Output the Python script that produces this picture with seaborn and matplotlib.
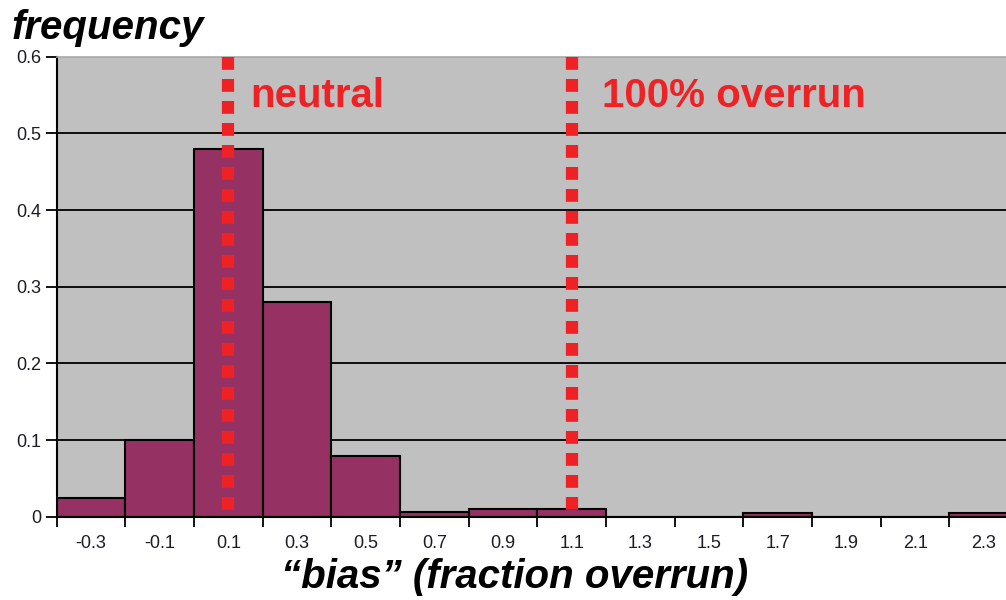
import numpy as np
import pandas as pd
import matplotlib
matplotlib.use("Agg")
import matplotlib.pyplot as plt
import seaborn as sns

# Histogram of estimation bias (fraction overrun), bins of width 0.2
bin_centers = [-0.3, -0.1, 0.1, 0.3, 0.5, 0.7, 0.9, 1.1, 1.3, 1.5, 1.7, 1.9, 2.1, 2.3]
frequency = [0.025, 0.10, 0.48, 0.28, 0.079, 0.006, 0.010, 0.010, 0.0, 0.0, 0.005, 0.0, 0.0, 0.005]
tick_labels = ["-0.3", "-0.1", "0.1", "0.3", "0.5", "0.7", "0.9", "1.1",
               "1.3", "1.5", "1.7", "1.9", "2.1", "2.3"]
bin_edges = [-0.4, -0.2, 0.0, 0.2, 0.4, 0.6, 0.8, 1.0, 1.2, 1.4, 1.6, 1.8, 2.0, 2.2, 2.4]
marker_x = [0.1, 1.1]
marker_text = ["neutral", "100% overrun"]
y_ticks = [0, 0.1, 0.2, 0.3, 0.4, 0.5, 0.6]

sns.set_theme(style="white")
plt.rcParams["font.family"] = ["Liberation Sans", "DejaVu Sans"]

df = pd.DataFrame({"bias": bin_centers, "freq": frequency})

fig = plt.figure(figsize=(10.06, 6.0), dpi=100)
ax = fig.add_axes([0.0564, 0.1387, 0.9556, 0.7668])
ax.set_facecolor("#c0c0c0")

# black horizontal gridlines under the bars
for yv in y_ticks[1:-1]:
    ax.axhline(yv, color="black", lw=1.3, zorder=0.5)

sns.histplot(data=df, x="bias", weights="freq", bins=bin_edges, stat="count",
             color="#953263", alpha=1.0, edgecolor="black", linewidth=1.5,
             ax=ax, zorder=2)

# red dotted reference lines and their labels
for xv in marker_x:
    ax.plot([xv, xv], [0.6, 0.0], color="#ee2224", lw=8.8,
            linestyle=(0, (1.05, 0.75)), dash_capstyle="butt",
            solid_capstyle="butt", zorder=3, clip_on=False)
ax.text(0.163, 0.549, marker_text[0], color="#ee2224", fontsize=29,
        fontweight="bold", ha="left", va="center", zorder=4)
ax.text(1.1875, 0.549, marker_text[1], color="#ee2224", fontsize=29,
        fontweight="bold", ha="left", va="center", zorder=4)

ax.set_xlim(bin_edges[0], bin_edges[-1])
ax.set_ylim(0, 0.6)

# tick marks at bin edges, labels at bin centers
ax.set_xticks(bin_edges)
ax.set_xticklabels([])
ax.set_xticks(bin_centers, minor=True)
ax.set_xticklabels(tick_labels, minor=True)
ax.tick_params(axis="x", which="major", direction="out", length=7, width=1.3,
               color="black", bottom=True)
ax.tick_params(axis="x", which="minor", length=0, pad=13, labelsize=13,
               labelcolor="#1c1c24")
ax.set_yticks(y_ticks)
ax.set_yticklabels(["0", "0.1", "0.2", "0.3", "0.4", "0.5", "0.6"])
ax.tick_params(axis="y", direction="out", length=8, width=1.3, color="black",
               left=True, pad=3, labelsize=13, labelcolor="#1c1c24")

ax.set_xlabel("")
ax.set_ylabel("")
ax.grid(False)

for side in ["left", "bottom"]:
    ax.spines[side].set_color("black")
    ax.spines[side].set_linewidth(1.5)
ax.spines["top"].set_color("#a8a8a8")
ax.spines["top"].set_linewidth(1.2)
ax.spines["right"].set_visible(False)

fig.text(0.011, 0.935, "frequency", fontsize=29, fontweight="bold",
         fontstyle="italic", ha="left", va="baseline", color="black")
fig.text(0.511, 0.02, "\u201cbias\u201d (fraction overrun)", fontsize=29,
         fontweight="bold", fontstyle="italic", ha="center", va="baseline",
         color="black")

fig.savefig("out.png", dpi=100)
